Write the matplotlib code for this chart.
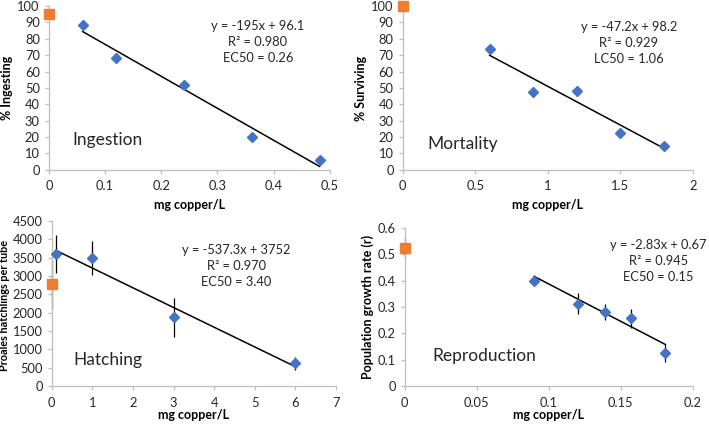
import matplotlib
matplotlib.use("Agg")
import matplotlib.pyplot as plt
import numpy as np

plt.rcParams['font.family'] = ['Lato', 'DejaVu Sans']

BLUE = '#4472C4'
ORANGE = '#ED7D31'
SPINE = '#BFBFBF'

# Panel 1: Ingestion
ing_ctrl_x, ing_ctrl_y = [0.0], [95]
ing_x = [0.06, 0.12, 0.24, 0.362, 0.482]
ing_y = [88.5, 68, 51.5, 20, 6]
ing_fit = (-195, 96.1)
ing_text = ["y = -195x + 96.1", "R\u00b2 = 0.980", "EC50 = 0.26"]

# Panel 2: Mortality
mor_ctrl_x, mor_ctrl_y = [0.0], [100]
mor_x = [0.6, 0.9, 1.2, 1.5, 1.8]
mor_y = [74, 47.5, 48, 22.5, 14.5]
mor_fit = (-47.2, 98.2)
mor_text = ["y = -47.2x + 98.2", "R\u00b2 = 0.929", "LC50 = 1.06"]

# Panel 3: Hatching
hat_ctrl_x, hat_ctrl_y, hat_ctrl_err = [0.0], [2770], [660]
hat_x = [0.1, 1, 3, 6]
hat_y = [3600, 3500, 1880, 620]
hat_err = [510, 460, 530, 180]
hat_fit = (-537.3, 3752)
hat_text = ["y = -537.3x + 3752", "R\u00b2 = 0.970", "EC50 = 3.40"]

# Panel 4: Reproduction
rep_ctrl_x, rep_ctrl_y, rep_ctrl_err = [0.0], [0.525], [0.035]
rep_x = [0.09, 0.12, 0.139, 0.157, 0.181]
rep_y = [0.40, 0.312, 0.28, 0.257, 0.125]
rep_err = [0.02, 0.04, 0.03, 0.037, 0.035]
rep_fit = (-2.83, 0.67)
rep_text = ["y = -2.83x + 0.67", "R\u00b2 = 0.945", "EC50 = 0.15"]

fig = plt.figure(figsize=(7.09, 4.29), dpi=100)

def style(ax, xlim, xticks, xlabels, ylim, yticks, ylabels, ylabel,
          ylsize=9, xlpad=4, ylcoords=None):
    ax.set_xlim(*xlim)
    ax.set_ylim(*ylim)
    ax.set_xticks(xticks)
    ax.set_xticklabels(xlabels)
    ax.set_yticks(yticks)
    ax.set_yticklabels(ylabels)
    for s in ['top', 'right']:
        ax.spines[s].set_visible(False)
    for s in ['left', 'bottom']:
        ax.spines[s].set_color(SPINE)
        ax.spines[s].set_linewidth(0.9)
    ax.tick_params(axis='both', colors=SPINE, labelcolor='#262626',
                   labelsize=9.3, length=3, width=0.9, direction='out')
    ax.tick_params(axis='x', pad=4.5)
    ax.set_xlabel("mg copper/L", fontsize=9, fontweight='bold', labelpad=xlpad)
    ax.set_ylabel(ylabel, fontsize=ylsize, fontweight='bold', labelpad=3)
    if ylcoords is not None:
        ax.yaxis.set_label_coords(*ylcoords)

def panel(rect, cx, cy, x, y, fit, texts, tpos, label, lpos, yerr=None, cerr=None):
    ax = fig.add_axes(rect)
    if cerr is not None:
        ax.errorbar(cx, cy, yerr=cerr, fmt='none', ecolor='black', elinewidth=0.9, clip_on=False)
    if yerr is not None:
        ax.errorbar(x, y, yerr=yerr, fmt='none', ecolor='black', elinewidth=0.9, clip_on=False)
    xs = np.array([min(x), max(x)])
    ax.plot(xs, fit[0] * xs + fit[1], color='black', lw=1.1, zorder=3)
    ax.plot(x, y, ls='none', marker='D', ms=5.5, color=BLUE, zorder=4, clip_on=False)
    ax.plot(cx, cy, ls='none', marker='s', ms=6.5, color=ORANGE, zorder=5, clip_on=False)
    ax.text(tpos[0], tpos[1], "\n".join(texts), transform=ax.transAxes,
            ha='center', va='top', fontsize=9.3, linespacing=1.42, color='#262626')
    ax.text(lpos[0], lpos[1], label, transform=ax.transAxes,
            ha='left', va='center', fontsize=12.5, color='#262626')
    return ax

ax1 = panel([0.069, 0.604, 0.396, 0.382], ing_ctrl_x, ing_ctrl_y, ing_x, ing_y,
            ing_fit, ing_text, (0.744, 0.915), "Ingestion", (0.085, 0.185))
style(ax1, (0, 0.5), [0, 0.1, 0.2, 0.3, 0.4, 0.5], ["0", "0.1", "0.2", "0.3", "0.4", "0.5"],
      (0, 100), list(range(0, 101, 10)), [str(v) for v in range(0, 101, 10)], "% Ingesting",
      xlpad=5)

ax2 = panel([0.568, 0.604, 0.409, 0.382], mor_ctrl_x, mor_ctrl_y, mor_x, mor_y,
            mor_fit, mor_text, (0.78, 0.91), "Mortality", (0.085, 0.155))
style(ax2, (0, 2), [0, 0.5, 1, 1.5, 2], ["0", "0.5", "1", "1.5", "2"],
      (0, 100), list(range(0, 101, 10)), [str(v) for v in range(0, 101, 10)], "% Surviving",
      xlpad=5)

ax3 = panel([0.073, 0.100, 0.401, 0.385], hat_ctrl_x, hat_ctrl_y, hat_x, hat_y,
            hat_fit, hat_text, (0.65, 0.86), "Hatching", (0.075, 0.16),
            yerr=hat_err, cerr=hat_ctrl_err)
style(ax3, (0, 7), list(range(0, 8)), [str(v) for v in range(0, 8)],
      (0, 4500), list(range(0, 4501, 500)), [str(v) for v in range(0, 4501, 500)],
      "Proales hatchlings per tube", ylsize=7.8, xlpad=0, ylcoords=(-0.148, 0.49))

ax4 = panel([0.571, 0.100, 0.406, 0.369], rep_ctrl_x, rep_ctrl_y, rep_x, rep_y,
            rep_fit, rep_text, (0.88, 0.93), "Reproduction", (0.095, 0.19),
            yerr=rep_err, cerr=rep_ctrl_err)
style(ax4, (0, 0.2), [0, 0.05, 0.1, 0.15, 0.2], ["0", "0.05", "0.1", "0.15", "0.2"],
      (0, 0.6), [0, 0.1, 0.2, 0.3, 0.4, 0.5, 0.6], ["0", "0.1", "0.2", "0.3", "0.4", "0.5", "0.6"],
      "Population growth rate (r)", xlpad=0)

fig.savefig("out.png", dpi=100)
